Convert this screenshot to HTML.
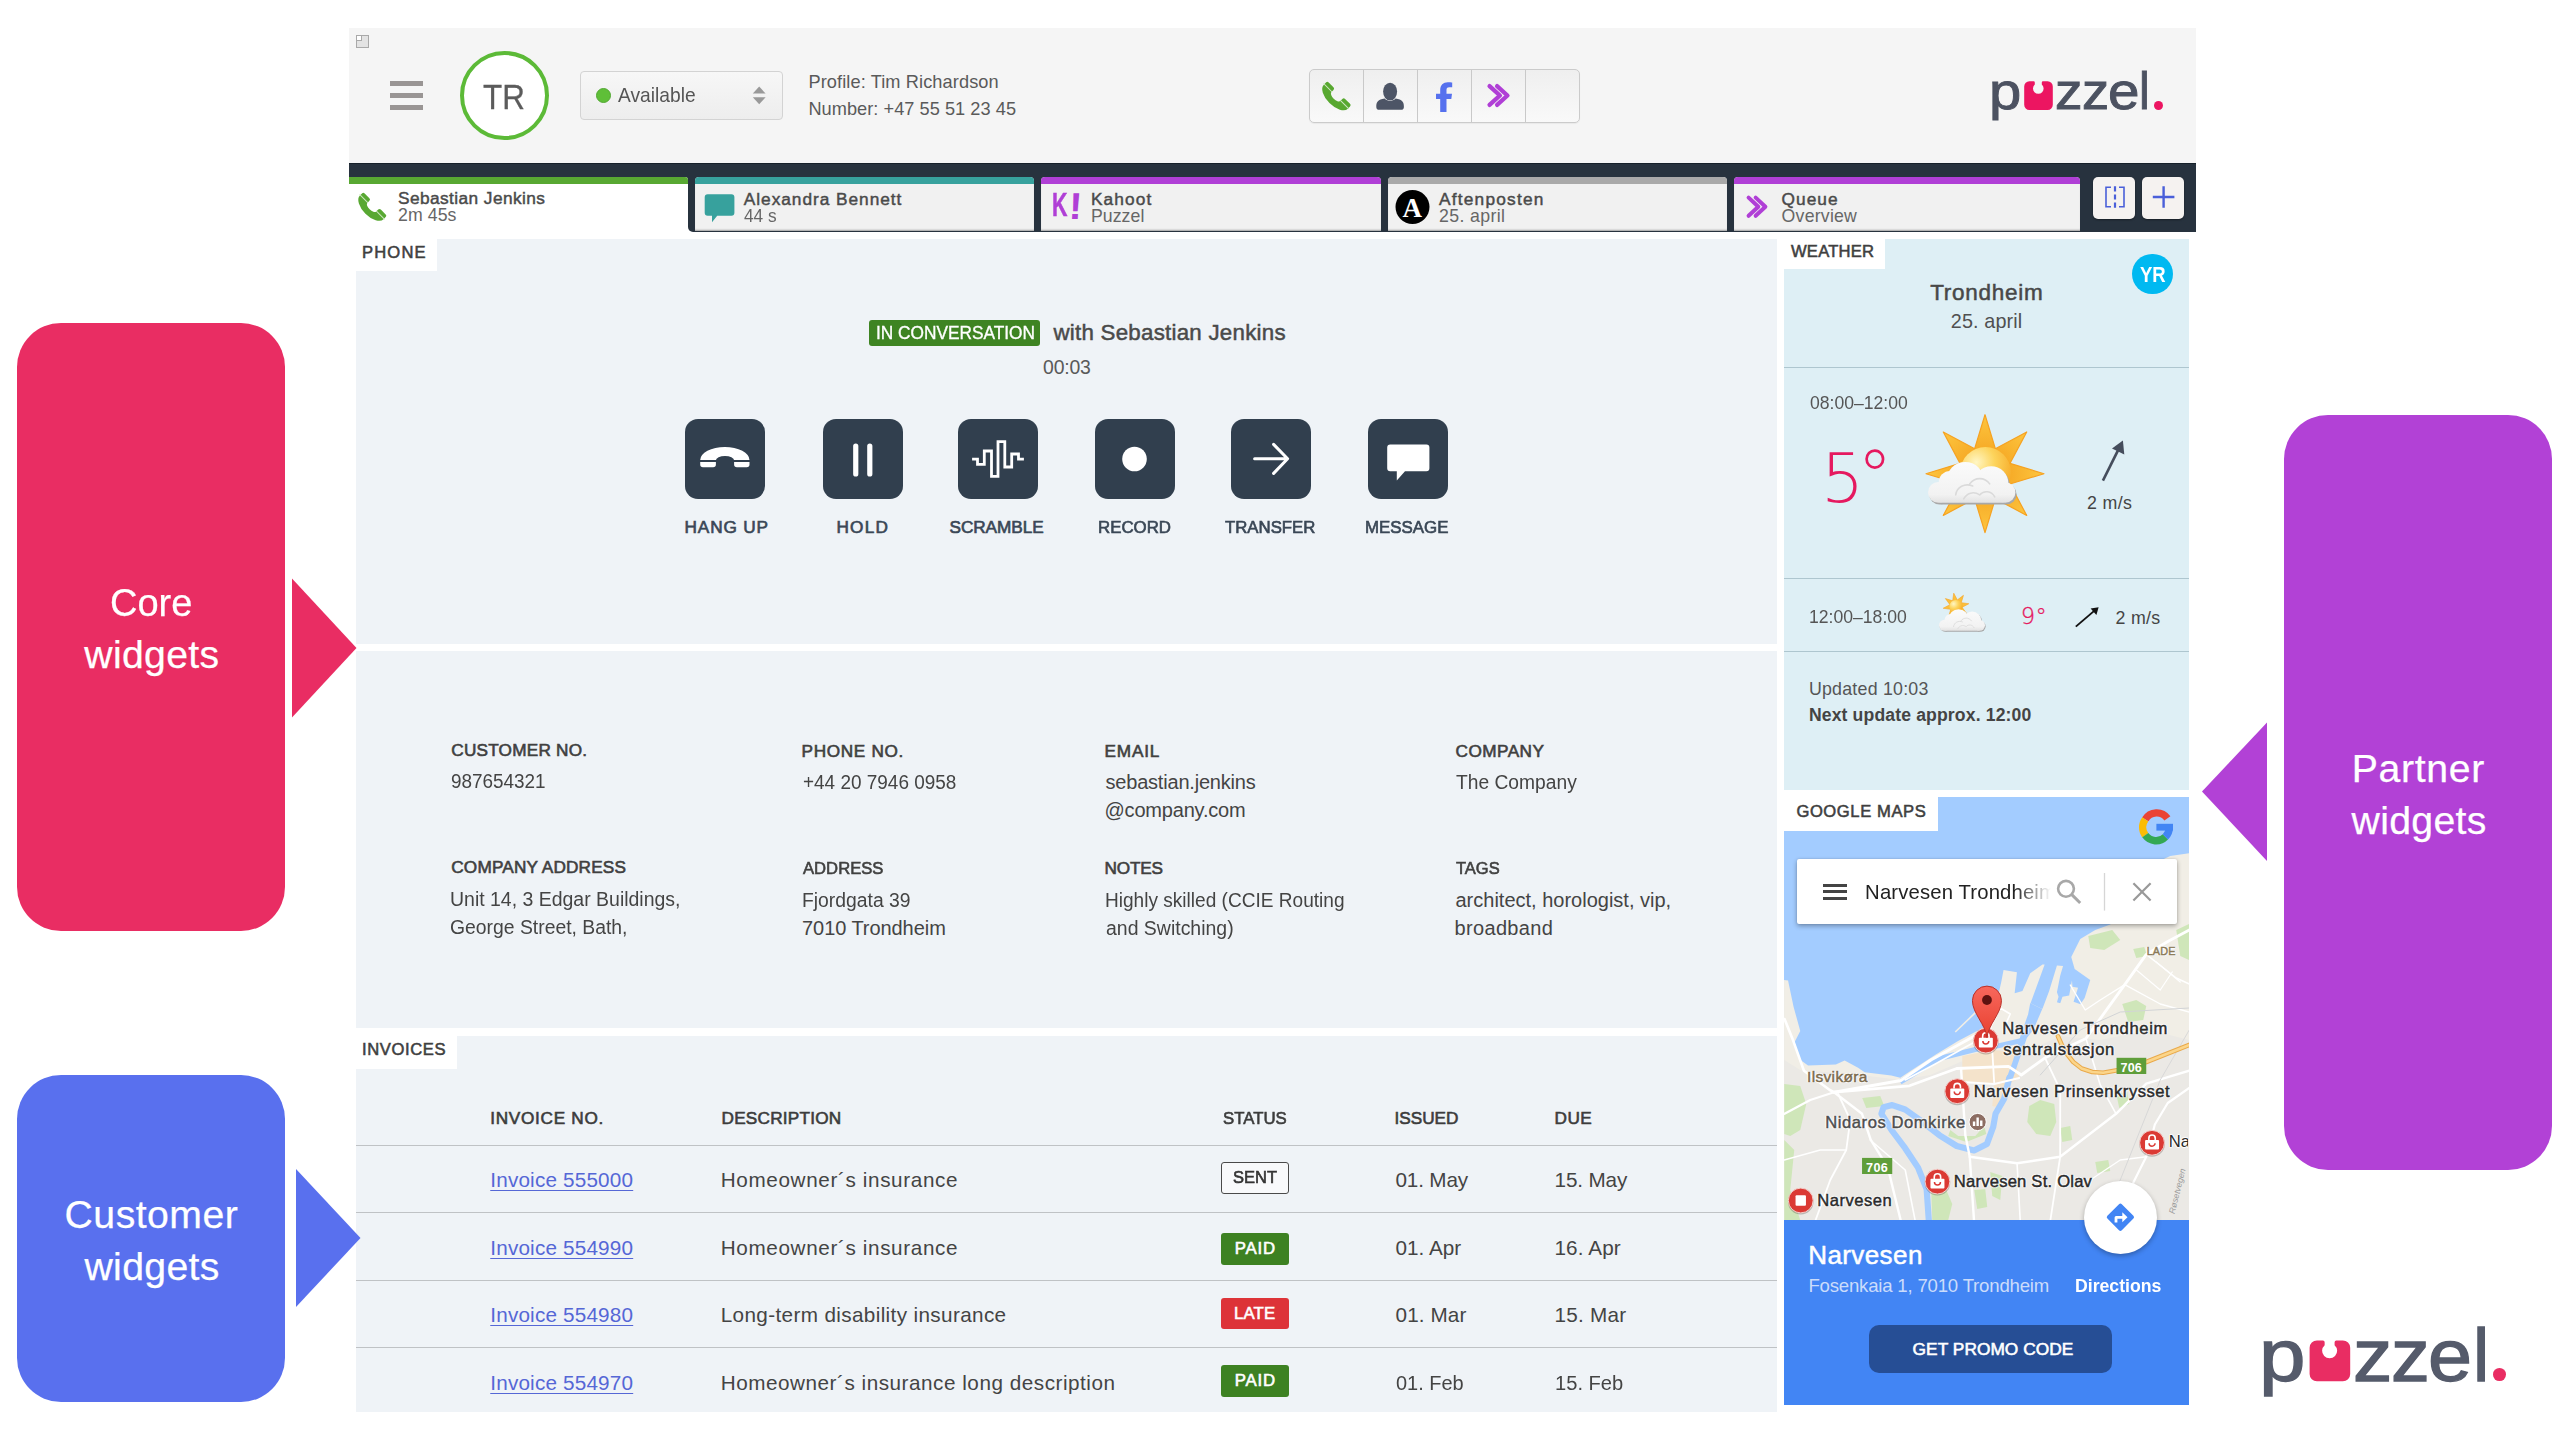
<!DOCTYPE html>
<html lang="en"><head><meta charset="utf-8"><title>Puzzel agent application widgets</title>
<style>
*{box-sizing:border-box;margin:0;padding:0}
html,body{width:2560px;height:1440px;overflow:hidden;background:#fff}
body{position:relative;font-family:"Liberation Sans",sans-serif}
.a{position:absolute}
.t{position:absolute;white-space:pre;display:block}
svg{position:absolute;overflow:visible}
</style></head>
<body>
<section id="header">
<div class="a" style="left:349px;top:28px;width:1847.00px;height:135.00px;background:#f5f5f5"></div>
<div class="a" style="left:356px;top:35px;width:13.00px;height:13.00px;background:#e3e3e3;border:1px solid #a9a9a9"><div class="a" style="left:0;top:0;width:5px;height:5px;background:#fff;border-right:1px solid #a9a9a9;border-bottom:1px solid #a9a9a9"></div></div>
<div class="a" style="left:389.7px;top:81px;width:33.70px;height:5.00px;background:#999594"></div>
<div class="a" style="left:389.7px;top:93px;width:33.70px;height:5.00px;background:#999594"></div>
<div class="a" style="left:389.7px;top:105.2px;width:33.70px;height:5.00px;background:#999594"></div>
<div class="a" style="left:460px;top:51px;width:89.00px;height:89.00px;border-radius:50%;background:#fff;border:4px solid #5cba37"></div>
<div class="a" style="left:580px;top:71px;width:203.00px;height:49.00px;border:1px solid #d3d3d3;border-radius:4px;background:linear-gradient(#f7f7f7,#ededed)"></div>
<div class="a" style="left:595.5px;top:88px;width:15.00px;height:15.00px;border-radius:50%;background:#5fbf38;border:1px solid #52a832"></div>
<svg style="left:752px;top:85px;" width="15" height="21" viewBox="752 85 15 21"><polygon points="752.8,93.6 765.6,93.6 759.2,86.6" fill="#999"/><polygon points="752.8,97.3 765.6,97.3 759.2,104.2" fill="#999"/></svg>
<div class="a" style="left:1309px;top:69px;width:270.50px;height:53.50px;border:1px solid #cbcbcb;border-radius:5px;background:linear-gradient(#efefef,#f9f9f9);box-shadow:0 1px 1px rgba(0,0,0,.05)"></div>
<div class="a" style="left:1363px;top:70px;width:1.00px;height:51.50px;background:#c9c9c9"></div>
<div class="a" style="left:1417px;top:70px;width:1.00px;height:51.50px;background:#c9c9c9"></div>
<div class="a" style="left:1471px;top:70px;width:1.00px;height:51.50px;background:#c9c9c9"></div>
<div class="a" style="left:1525px;top:70px;width:1.00px;height:51.50px;background:#c9c9c9"></div>
<svg style="left:1309px;top:69px;" width="271" height="54" viewBox="1309 69 271 54"><g transform="translate(1334.4,98.1) rotate(-135) scale(0.69) translate(-724.85,-457.15)"><path d="M700.2,460.1 A24.65,13.1 0 0 1 749.5,460.1 V464.5 a2.8,2.8 0 0 1 -2.8,2.8 H736.9 a2.8,2.8 0 0 1 -2.8,-2.8 V460.2 A9.1,4.3 0 0 0 715.9,460.2 V464.5 a2.8,2.8 0 0 1 -2.8,2.8 H703 a2.8,2.8 0 0 1 -2.8,-2.8 z" fill="#58a830"/><path d="M699,461 h17.5 M733.5,461 h17.5" stroke="#cfe6c2" stroke-width="1.5"/></g><ellipse cx="1390.1" cy="91.6" rx="7" ry="8.9" fill="#4d5566"/><path d="M1376.3,106.9 C1376.3,101.6 1378,99.7 1384.6,98.5 C1386.4,100.3 1388.2,100.9 1390.1,100.9 C1392,100.9 1393.8,100.3 1395.6,98.5 C1402.2,99.7 1403.9,101.6 1403.9,106.9 a2.8,2.8 0 0 1 -2.8,2.8 h-22 a2.8,2.8 0 0 1 -2.8,-2.8 z" fill="#4d5566"/><path d="M1440.2,111.9 v-13 h-4.2 v-5.1 h4.2 v-3.6 c0,-5 3,-7.95 7.6,-7.95 c1.8,0 3.6,0.15 4.4,0.3 v4.6 h-2.9 c-2.3,0 -2.8,1.1 -2.8,2.9 v3.75 h5.5 l-0.7,5.1 h-4.8 v13 z" fill="#5671ee"/><path d="M1489.55,86.15 L1499.93,95.50 L1489.55,104.85 M1497.07,86.15 L1507.45,95.50 L1497.07,104.85" fill="none" stroke="#b03fd6" stroke-width="4.3" stroke-linecap="round" stroke-linejoin="round"/></svg>
<svg style="left:2022px;top:79px;" width="33" height="34" viewBox="2022 79 33 34"><path d="M2029.40,81.20 H2033.60 Q2034.80,81.20 2034.80,82.40 V84.52 A5.30,5.30 0 1 0 2041.80,84.52 V82.40 Q2041.80,81.20 2043.00,81.20 H2047.60 a5.20,5.20 0 0 1 5.20,5.20 V104.80 a5.20,5.20 0 0 1 -5.20,5.20 H2029.40 a5.20,5.20 0 0 1 -5.20,-5.20 V86.40 a5.20,5.20 0 0 1 5.20,-5.20 z" fill="#ec1561"/></svg>
<div class="a" style="left:2153.55px;top:100.8px;width:9.00px;height:9.00px;background:#ec1561;border-radius:50%"></div>
<span class="t" style="left:482.80px;top:80.00px;font:400 34.2px/34.2px 'Liberation Sans', sans-serif;color:#5b5b5b;-webkit-text-stroke:0.3px #5b5b5b;transform-origin:0 50%;transform:scaleX(0.9179);">TR</span>
<span class="t" style="left:618.40px;top:86.00px;font:400 19.8px/19.8px 'Liberation Sans', sans-serif;color:#555;transform-origin:0 50%;transform:scaleX(0.9710);">Available</span>
<span class="t" style="left:808.40px;top:73.00px;font:400 18.2px/18.2px 'Liberation Sans', sans-serif;color:#5a5a5a;letter-spacing:0.104px;">Profile: Tim Richardson</span>
<span class="t" style="left:808.40px;top:100.00px;font:400 18.2px/18.2px 'Liberation Sans', sans-serif;color:#5a5a5a;letter-spacing:0.038px;">Number: +47 55 51 23 45</span>
<span class="t" style="left:1988.59px;top:65.00px;font:400 52.626204238921005px/52.626204238921005px 'Liberation Sans', sans-serif;color:#4c5261;-webkit-text-stroke:0.9px #4c5261;transform-origin:0 50%;transform:scaleX(1.1040);">p</span><span class="t" style="left:2032.00px;top:90.00px;font:400 18.945433526011563px/18.945433526011563px 'Liberation Sans', sans-serif;color:#ec1561;">u</span><span class="t" style="left:2054.91px;top:65.00px;font:400 52.626204238921005px/52.626204238921005px 'Liberation Sans', sans-serif;color:#4c5261;-webkit-text-stroke:0.9px #4c5261;transform-origin:0 50%;transform:scaleX(1.0455);">z</span><span class="t" style="left:2081.54px;top:65.00px;font:400 52.626204238921005px/52.626204238921005px 'Liberation Sans', sans-serif;color:#4c5261;-webkit-text-stroke:0.9px #4c5261;transform-origin:0 50%;transform:scaleX(1.0318);">z</span><span class="t" style="left:2107.65px;top:65.00px;font:400 52.626204238921005px/52.626204238921005px 'Liberation Sans', sans-serif;color:#4c5261;-webkit-text-stroke:0.9px #4c5261;transform-origin:0 50%;transform:scaleX(1.0760);">e</span><span class="t" style="left:2139.10px;top:66.00px;font:400 51.83681117533719px/51.83681117533719px 'Liberation Sans', sans-serif;color:#4c5261;-webkit-text-stroke:0.9px #4c5261;transform-origin:0 50%;transform:scaleX(0.9333);">l</span><span class="t" style="left:2151.50px;top:69.00px;font:400 47.3635838150289px/47.3635838150289px 'Liberation Sans', sans-serif;color:#ec1561;">.</span>
</section>
<section id="tabs">
<div class="a" style="left:349px;top:163px;width:1847.00px;height:69.00px;background:#27323e;border-top:1px solid #16202a"></div>
<div class="a" style="left:349px;top:177px;width:339.40px;height:63.00px;background:#fff;border-radius:0 3px 0 0"></div>
<div class="a" style="left:349px;top:177px;width:339.40px;height:6.50px;background:#58a832;border-radius:0 3px 0 0"></div>
<div class="a" style="left:695px;top:177px;width:339.40px;height:54.00px;background:#f1f1f1;border-radius:4px 4px 0 0;box-shadow:inset 0 -2px 2px -1px rgba(0,0,0,.35);overflow:hidden"><div class="a" style="left:0;top:0;width:100%;height:6.5px;background:#37a19d"></div></div>
<div class="a" style="left:1041.3px;top:177px;width:339.30px;height:54.00px;background:#f1f1f1;border-radius:4px 4px 0 0;box-shadow:inset 0 -2px 2px -1px rgba(0,0,0,.35);overflow:hidden"><div class="a" style="left:0;top:0;width:100%;height:6.5px;background:#b03fd6"></div></div>
<div class="a" style="left:1387.5px;top:177px;width:339.40px;height:54.00px;background:#f1f1f1;border-radius:4px 4px 0 0;box-shadow:inset 0 -2px 2px -1px rgba(0,0,0,.35);overflow:hidden"><div class="a" style="left:0;top:0;width:100%;height:6.5px;background:#a9a9a9"></div></div>
<div class="a" style="left:1733.8px;top:177px;width:345.90px;height:54.00px;background:#f1f1f1;border-radius:4px 4px 0 0;box-shadow:inset 0 -2px 2px -1px rgba(0,0,0,.35);overflow:hidden"><div class="a" style="left:0;top:0;width:100%;height:6.5px;background:#b03fd6"></div></div>
<div class="a" style="left:349px;top:232px;width:1847.00px;height:7.00px;background:#fff"></div>
<div class="a" style="left:688.4px;top:226px;width:6.60px;height:6.00px;background:#fff"></div>
<div class="a" style="left:688.4px;top:220px;width:7.10px;height:12.00px;background:#27323e;border-radius:0 0 0 5px"></div>
<div class="a" style="left:2093px;top:176.5px;width:42.00px;height:42.00px;background:#f5f2f0;border-radius:5px;box-shadow:0 1px 2px rgba(0,0,0,.4)"></div>
<div class="a" style="left:2142px;top:176.5px;width:42.00px;height:42.00px;background:#f5f2f0;border-radius:5px;box-shadow:0 1px 2px rgba(0,0,0,.4)"></div>
<svg style="left:2093px;top:176px;" width="92" height="44" viewBox="2093 176 92 44"><path d="M2111,187.2 h-5 v19.6 h5 M2119,187.2 h5 v19.6 h-5" fill="none" stroke="#4a5fd9" stroke-width="1.6"/><path d="M2115,186.2 v21.6" stroke="#4a5fd9" stroke-width="2.2" stroke-dasharray="5.2,3" fill="none"/><path d="M2152.8,197 h21.6 M2163.6,186.2 v21.6" stroke="#4a5fd9" stroke-width="2.4" fill="none"/></svg>
<svg style="left:349px;top:177px;" width="1731" height="55" viewBox="349 177 1731 55"><g transform="translate(370.3,208.8) rotate(-135) scale(0.68) translate(-724.85,-457.15)"><path d="M700.2,460.1 A24.65,13.1 0 0 1 749.5,460.1 V464.5 a2.8,2.8 0 0 1 -2.8,2.8 H736.9 a2.8,2.8 0 0 1 -2.8,-2.8 V460.2 A9.1,4.3 0 0 0 715.9,460.2 V464.5 a2.8,2.8 0 0 1 -2.8,2.8 H703 a2.8,2.8 0 0 1 -2.8,-2.8 z" fill="#58a832"/><path d="M699,461 h17.5 M733.5,461 h17.5" stroke="#cde5c0" stroke-width="1.5"/></g><path d="M707.7,194.3 h23.7 a3,3 0 0 1 3,3 v15.4 a3,3 0 0 1 -3,3 h-14.2 l-5.2,6.5 v-6.5 h-4.3 a3,3 0 0 1 -3,-3 v-15.4 a3,3 0 0 1 3,-3 z" fill="#37a19d"/><path d="M1748.60,197.60 L1758.34,206.70 L1748.60,215.80 M1755.66,197.60 L1765.40,206.70 L1755.66,215.80" fill="none" stroke="#b03fd6" stroke-width="4" stroke-linecap="round" stroke-linejoin="round"/><circle cx="1412.5" cy="207" r="17" fill="#000"/></svg>
<span class="t" style="left:398.00px;top:190.00px;font:400 17.3px/17.3px 'Liberation Sans', sans-serif;color:#4a4a4a;letter-spacing:0.418px;-webkit-text-stroke:0.45px #4a4a4a;">Sebastian Jenkins</span>
<span class="t" style="left:398.00px;top:207.00px;font:400 17.7px/17.7px 'Liberation Sans', sans-serif;color:#666;letter-spacing:0.088px;">2m 45s</span>
<span class="t" style="left:743.80px;top:191.00px;font:400 17.3px/17.3px 'Liberation Sans', sans-serif;color:#4a4a4a;letter-spacing:0.963px;-webkit-text-stroke:0.45px #4a4a4a;">Alexandra Bennett</span>
<span class="t" style="left:743.80px;top:208.00px;font:400 17.7px/17.7px 'Liberation Sans', sans-serif;color:#666;transform-origin:0 50%;transform:scaleX(0.9765);">44 s</span>
<span class="t" style="left:1090.90px;top:191.00px;font:400 17.3px/17.3px 'Liberation Sans', sans-serif;color:#4a4a4a;letter-spacing:1.126px;-webkit-text-stroke:0.45px #4a4a4a;">Kahoot</span>
<span class="t" style="left:1090.90px;top:208.00px;font:400 17.7px/17.7px 'Liberation Sans', sans-serif;color:#666;letter-spacing:0.068px;">Puzzel</span>
<span class="t" style="left:1439.00px;top:191.00px;font:400 17.3px/17.3px 'Liberation Sans', sans-serif;color:#4a4a4a;letter-spacing:1.217px;-webkit-text-stroke:0.45px #4a4a4a;">Aftenposten</span>
<span class="t" style="left:1439.00px;top:208.00px;font:400 17.7px/17.7px 'Liberation Sans', sans-serif;color:#666;letter-spacing:0.376px;">25. april</span>
<span class="t" style="left:1781.60px;top:191.00px;font:400 17.3px/17.3px 'Liberation Sans', sans-serif;color:#4a4a4a;letter-spacing:1.006px;-webkit-text-stroke:0.45px #4a4a4a;">Queue</span>
<span class="t" style="left:1781.60px;top:208.00px;font:400 17.7px/17.7px 'Liberation Sans', sans-serif;color:#666;letter-spacing:0.223px;">Overview</span>
<span class="t" style="left:1051.98px;top:189.00px;font:700 32.6px/32.6px 'Liberation Sans', sans-serif;color:#b03fd6;-webkit-text-stroke:0.5px #b03fd6;transform-origin:0 50%;transform:scaleX(0.6591);">K</span><span class="t" style="left:1068.80px;top:188.00px;font:700 37.5px/37.5px 'Liberation Sans', sans-serif;color:#b03fd6;transform-origin:0 50%;transform:scaleX(1.0667);transform:scaleX(1.0667) skewX(-3deg);">!</span>
<span class="t" style="left:1402.50px;top:195.00px;font:700 27px/27px 'Liberation Serif', serif;color:#fff;">A</span>
</section>
<section id="phone">
<div class="a" style="left:356px;top:239px;width:1421.00px;height:405.00px;background:#eff3f7"></div>
<div class="a" style="left:349px;top:239px;width:88.00px;height:32.00px;background:#fff"></div>
<div class="a" style="left:869.3px;top:319.7px;width:170.70px;height:25.90px;background:#3e8422;border-radius:3px"></div>
<div class="a" style="left:685px;top:419px;width:80.00px;height:80.00px;background:#313f4e;border-radius:13px"></div>
<div class="a" style="left:822.8px;top:419px;width:80.00px;height:80.00px;background:#313f4e;border-radius:13px"></div>
<div class="a" style="left:958px;top:419px;width:80.00px;height:80.00px;background:#313f4e;border-radius:13px"></div>
<div class="a" style="left:1094.5px;top:419px;width:80.00px;height:80.00px;background:#313f4e;border-radius:13px"></div>
<div class="a" style="left:1231.1px;top:419px;width:80.00px;height:80.00px;background:#313f4e;border-radius:13px"></div>
<div class="a" style="left:1367.6px;top:419px;width:80.00px;height:80.00px;background:#313f4e;border-radius:13px"></div>
<svg style="left:680px;top:415px;" width="772" height="87" viewBox="680 415 772 87"><g transform="translate(724.85,457.15) rotate(0) scale(1) translate(-724.85,-457.15)"><path d="M700.2,460.1 A24.65,13.1 0 0 1 749.5,460.1 V464.5 a2.8,2.8 0 0 1 -2.8,2.8 H736.9 a2.8,2.8 0 0 1 -2.8,-2.8 V460.2 A9.1,4.3 0 0 0 715.9,460.2 V464.5 a2.8,2.8 0 0 1 -2.8,2.8 H703 a2.8,2.8 0 0 1 -2.8,-2.8 z" fill="#fff"/><path d="M699,461 h17.5 M733.5,461 h17.5" stroke="#313f4e" stroke-width="1.8"/></g><path d="M855.75,446.1 v27.8 M869.8,446.1 v27.8" stroke="#fff" stroke-width="5.2" stroke-linecap="round"/><path d="M972.1,459.1 H977.5 V464.4 H984.3 V451 H991.5 V476.4 H998 V441.6 H1004.8 V467 H1011.7 V454 H1018.5 V459.1 H1023.9" fill="none" stroke="#fff" stroke-width="2.8" stroke-linejoin="miter" stroke-linecap="butt"/><circle cx="1134.5" cy="459" r="12.3" fill="#fff"/><path d="M1254.6,458.8 H1287 M1273.6,444.4 L1287.6,458.8 L1273.6,473.4" fill="none" stroke="#fff" stroke-width="3" stroke-linecap="round" stroke-linejoin="round"/><path d="M1390.2,444.4 h36.2 a3,3 0 0 1 3,3 v20.8 a3,3 0 0 1 -3,3 h-21.4 l-8.2,9.4 v-9.4 h-6.6 a3,3 0 0 1 -3,-3 v-20.8 a3,3 0 0 1 3,-3 z" fill="#fff"/></svg>
<span class="t" style="left:362.00px;top:245.00px;font:400 16.6px/16.6px 'Liberation Sans', sans-serif;color:#3f3f3f;letter-spacing:1.139px;-webkit-text-stroke:0.55px #3f3f3f;">PHONE</span>
<span class="t" style="left:875.85px;top:324.00px;font:400 18.3px/18.3px 'Liberation Sans', sans-serif;color:#fff;-webkit-text-stroke:0.35px #fff;transform-origin:0 50%;transform:scaleX(0.9451);">IN CONVERSATION</span>
<span class="t" style="left:1053.50px;top:322.00px;font:400 22.3px/22.3px 'Liberation Sans', sans-serif;color:#4a4a4a;letter-spacing:0.249px;-webkit-text-stroke:0.5px #4a4a4a;">with Sebastian Jenkins</span>
<span class="t" style="left:1043.10px;top:358.00px;font:400 19.4px/19.4px 'Liberation Sans', sans-serif;color:#5a5a5a;letter-spacing:-0.210px;">00:03</span>
<span class="t" style="left:684.50px;top:519.00px;font:400 17.2px/17.2px 'Liberation Sans', sans-serif;color:#3a4756;letter-spacing:0.876px;-webkit-text-stroke:0.65px #3a4756;">HANG UP</span>
<span class="t" style="left:836.40px;top:519.00px;font:400 17.2px/17.2px 'Liberation Sans', sans-serif;color:#3a4756;letter-spacing:1.287px;-webkit-text-stroke:0.65px #3a4756;">HOLD</span>
<span class="t" style="left:949.50px;top:519.00px;font:400 17.2px/17.2px 'Liberation Sans', sans-serif;color:#3a4756;letter-spacing:-0.056px;-webkit-text-stroke:0.65px #3a4756;">SCRAMBLE</span>
<span class="t" style="left:1097.72px;top:519.00px;font:400 17.2px/17.2px 'Liberation Sans', sans-serif;color:#3a4756;-webkit-text-stroke:0.65px #3a4756;transform-origin:0 50%;transform:scaleX(0.9799);">RECORD</span>
<span class="t" style="left:1225.00px;top:519.00px;font:400 17.2px/17.2px 'Liberation Sans', sans-serif;color:#3a4756;-webkit-text-stroke:0.65px #3a4756;transform-origin:0 50%;transform:scaleX(0.9760);">TRANSFER</span>
<span class="t" style="left:1365.02px;top:519.00px;font:400 17.2px/17.2px 'Liberation Sans', sans-serif;color:#3a4756;-webkit-text-stroke:0.65px #3a4756;transform-origin:0 50%;transform:scaleX(0.9815);">MESSAGE</span>
</section>
<section id="customer">
<div class="a" style="left:356px;top:651px;width:1421.00px;height:377.00px;background:#eff3f7"></div>
<span class="t" style="left:451.25px;top:742.00px;font:400 17.2px/17.2px 'Liberation Sans', sans-serif;color:#404040;letter-spacing:0.219px;-webkit-text-stroke:0.6px #404040;">CUSTOMER NO.</span>
<span class="t" style="left:451.25px;top:771.00px;font:400 20px/20px 'Liberation Sans', sans-serif;color:#444;transform-origin:0 50%;transform:scaleX(0.9451);">987654321</span>
<span class="t" style="left:801.50px;top:743.00px;font:400 17.2px/17.2px 'Liberation Sans', sans-serif;color:#404040;letter-spacing:0.665px;-webkit-text-stroke:0.6px #404040;">PHONE NO.</span>
<span class="t" style="left:803.00px;top:772.00px;font:400 20px/20px 'Liberation Sans', sans-serif;color:#444;transform-origin:0 50%;transform:scaleX(0.9477);">+44 20 7946 0958</span>
<span class="t" style="left:1104.50px;top:743.00px;font:400 17.2px/17.2px 'Liberation Sans', sans-serif;color:#404040;letter-spacing:0.807px;-webkit-text-stroke:0.6px #404040;">EMAIL</span>
<span class="t" style="left:1105.50px;top:772.00px;font:400 20px/20px 'Liberation Sans', sans-serif;color:#444;letter-spacing:-0.199px;">sebastian.jenkins</span>
<span class="t" style="left:1104.50px;top:800.00px;font:400 20px/20px 'Liberation Sans', sans-serif;color:#444;letter-spacing:-0.195px;">@company.com</span>
<span class="t" style="left:1455.50px;top:743.00px;font:400 17.2px/17.2px 'Liberation Sans', sans-serif;color:#404040;letter-spacing:0.473px;-webkit-text-stroke:0.6px #404040;">COMPANY</span>
<span class="t" style="left:1455.50px;top:772.00px;font:400 20px/20px 'Liberation Sans', sans-serif;color:#444;transform-origin:0 50%;transform:scaleX(0.9613);">The Company</span>
<span class="t" style="left:451.25px;top:859.00px;font:400 17.2px/17.2px 'Liberation Sans', sans-serif;color:#404040;letter-spacing:0.176px;-webkit-text-stroke:0.6px #404040;">COMPANY ADDRESS</span>
<span class="t" style="left:450.28px;top:889.00px;font:400 20px/20px 'Liberation Sans', sans-serif;color:#444;transform-origin:0 50%;transform:scaleX(0.9733);">Unit 14, 3 Edgar Buildings,</span>
<span class="t" style="left:450.28px;top:917.00px;font:400 20px/20px 'Liberation Sans', sans-serif;color:#444;transform-origin:0 50%;transform:scaleX(0.9675);">George Street, Bath,</span>
<span class="t" style="left:802.50px;top:860.00px;font:400 17.2px/17.2px 'Liberation Sans', sans-serif;color:#404040;-webkit-text-stroke:0.6px #404040;transform-origin:0 50%;transform:scaleX(0.9682);">ADDRESS</span>
<span class="t" style="left:802.03px;top:890.00px;font:400 20px/20px 'Liberation Sans', sans-serif;color:#444;transform-origin:0 50%;transform:scaleX(0.9670);">Fjordgata 39</span>
<span class="t" style="left:802.00px;top:918.00px;font:400 20px/20px 'Liberation Sans', sans-serif;color:#444;letter-spacing:-0.057px;">7010 Trondheim</span>
<span class="t" style="left:1104.50px;top:860.00px;font:400 17.2px/17.2px 'Liberation Sans', sans-serif;color:#404040;letter-spacing:-0.186px;-webkit-text-stroke:0.6px #404040;">NOTES</span>
<span class="t" style="left:1104.55px;top:890.00px;font:400 20px/20px 'Liberation Sans', sans-serif;color:#444;transform-origin:0 50%;transform:scaleX(0.9535);">Highly skilled (CCIE Routing</span>
<span class="t" style="left:1105.50px;top:918.00px;font:400 20px/20px 'Liberation Sans', sans-serif;color:#444;transform-origin:0 50%;transform:scaleX(0.9730);">and Switching)</span>
<span class="t" style="left:1455.50px;top:860.00px;font:400 17.2px/17.2px 'Liberation Sans', sans-serif;color:#404040;-webkit-text-stroke:0.6px #404040;transform-origin:0 50%;transform:scaleX(0.9599);">TAGS</span>
<span class="t" style="left:1455.50px;top:890.00px;font:400 20px/20px 'Liberation Sans', sans-serif;color:#444;">architect, horologist, vip,</span>
<span class="t" style="left:1454.50px;top:918.00px;font:400 20px/20px 'Liberation Sans', sans-serif;color:#444;letter-spacing:0.341px;">broadband</span>
</section>
<section id="invoices">
<div class="a" style="left:356px;top:1036.25px;width:1421.00px;height:375.75px;background:#eff3f7"></div>
<div class="a" style="left:349px;top:1036px;width:108.00px;height:32.75px;background:#fff"></div>
<div class="a" style="left:356px;top:1144.6px;width:1421.00px;height:1.10px;background:#bfc2c5"></div>
<div class="a" style="left:356px;top:1212.3px;width:1421.00px;height:1.10px;background:#bfc2c5"></div>
<div class="a" style="left:356px;top:1279.8px;width:1421.00px;height:1.10px;background:#bfc2c5"></div>
<div class="a" style="left:356px;top:1347.3px;width:1421.00px;height:1.10px;background:#bfc2c5"></div>
<div class="a" style="left:1221.25px;top:1162px;width:67.50px;height:32.25px;background:#f8f9fb;border:1.2px solid #4a4a4a;border-radius:3px"></div>
<div class="a" style="left:1221.25px;top:1232.5px;width:67.50px;height:32.00px;background:#3d8122;border-radius:3px"></div>
<div class="a" style="left:1221.25px;top:1297.5px;width:67.50px;height:31.75px;background:#dd3338;border-radius:3px"></div>
<div class="a" style="left:1221.25px;top:1365px;width:67.50px;height:32.00px;background:#3d8122;border-radius:3px"></div>
<span class="t" style="left:362.00px;top:1042.00px;font:400 16.6px/16.6px 'Liberation Sans', sans-serif;color:#3f3f3f;letter-spacing:0.610px;-webkit-text-stroke:0.55px #3f3f3f;">INVOICES</span>
<span class="t" style="left:490.25px;top:1110.00px;font:400 17.2px/17.2px 'Liberation Sans', sans-serif;color:#3c3c3c;letter-spacing:0.702px;-webkit-text-stroke:0.6px #3c3c3c;">INVOICE NO.</span>
<span class="t" style="left:721.50px;top:1110.00px;font:400 17.2px/17.2px 'Liberation Sans', sans-serif;color:#3c3c3c;letter-spacing:0.220px;-webkit-text-stroke:0.6px #3c3c3c;">DESCRIPTION</span>
<span class="t" style="left:1222.50px;top:1110.00px;font:400 17.2px/17.2px 'Liberation Sans', sans-serif;color:#3c3c3c;-webkit-text-stroke:0.6px #3c3c3c;transform-origin:0 50%;transform:scaleX(0.9763);">STATUS</span>
<span class="t" style="left:1394.50px;top:1110.00px;font:400 17.2px/17.2px 'Liberation Sans', sans-serif;color:#3c3c3c;letter-spacing:-0.016px;-webkit-text-stroke:0.6px #3c3c3c;">ISSUED</span>
<span class="t" style="left:1554.50px;top:1110.00px;font:400 17.2px/17.2px 'Liberation Sans', sans-serif;color:#3c3c3c;letter-spacing:0.463px;-webkit-text-stroke:0.6px #3c3c3c;">DUE</span>
<span class="t" style="left:490.25px;top:1170.00px;font:400 20.7px/20.7px 'Liberation Sans', sans-serif;color:#5567d6;letter-spacing:0.187px;text-decoration:underline;text-decoration-thickness:1.2px;text-underline-offset:3.4px;">Invoice 555000</span>
<span class="t" style="left:720.75px;top:1170.00px;font:400 20.7px/20.7px 'Liberation Sans', sans-serif;color:#444;letter-spacing:0.627px;">Homeowner´s insurance</span>
<span class="t" style="left:1395.50px;top:1170.00px;font:400 20.7px/20.7px 'Liberation Sans', sans-serif;color:#444;letter-spacing:-0.166px;">01. May</span>
<span class="t" style="left:1554.50px;top:1170.00px;font:400 20.7px/20.7px 'Liberation Sans', sans-serif;color:#444;letter-spacing:-0.124px;">15. May</span>
<span class="t" style="left:1233.25px;top:1170.00px;font:400 16.8px/16.8px 'Liberation Sans', sans-serif;color:#333;-webkit-text-stroke:0.6px #333;transform-origin:0 50%;transform:scaleX(0.9830);">SENT</span>
<span class="t" style="left:490.25px;top:1238.00px;font:400 20.7px/20.7px 'Liberation Sans', sans-serif;color:#5567d6;letter-spacing:0.187px;text-decoration:underline;text-decoration-thickness:1.2px;text-underline-offset:3.4px;">Invoice 554990</span>
<span class="t" style="left:720.75px;top:1238.00px;font:400 20.7px/20.7px 'Liberation Sans', sans-serif;color:#444;letter-spacing:0.627px;">Homeowner´s insurance</span>
<span class="t" style="left:1395.50px;top:1238.00px;font:400 20.7px/20.7px 'Liberation Sans', sans-serif;color:#444;letter-spacing:0.032px;">01. Apr</span>
<span class="t" style="left:1554.50px;top:1238.00px;font:400 20.7px/20.7px 'Liberation Sans', sans-serif;color:#444;letter-spacing:0.115px;">16. Apr</span>
<span class="t" style="left:1234.75px;top:1241.00px;font:400 16.8px/16.8px 'Liberation Sans', sans-serif;color:#fff;letter-spacing:0.816px;-webkit-text-stroke:0.6px #fff;">PAID</span>
<span class="t" style="left:490.25px;top:1305.00px;font:400 20.7px/20.7px 'Liberation Sans', sans-serif;color:#5567d6;letter-spacing:0.187px;text-decoration:underline;text-decoration-thickness:1.2px;text-underline-offset:3.4px;">Invoice 554980</span>
<span class="t" style="left:720.75px;top:1305.00px;font:400 20.7px/20.7px 'Liberation Sans', sans-serif;color:#444;letter-spacing:0.363px;">Long-term disability insurance</span>
<span class="t" style="left:1395.50px;top:1305.00px;font:400 20.7px/20.7px 'Liberation Sans', sans-serif;color:#444;letter-spacing:0.126px;">01. Mar</span>
<span class="t" style="left:1554.50px;top:1305.00px;font:400 20.7px/20.7px 'Liberation Sans', sans-serif;color:#444;letter-spacing:0.243px;">15. Mar</span>
<span class="t" style="left:1234.00px;top:1306.00px;font:400 16.8px/16.8px 'Liberation Sans', sans-serif;color:#fff;letter-spacing:0.157px;-webkit-text-stroke:0.6px #fff;">LATE</span>
<span class="t" style="left:490.25px;top:1373.00px;font:400 20.7px/20.7px 'Liberation Sans', sans-serif;color:#5567d6;letter-spacing:0.187px;text-decoration:underline;text-decoration-thickness:1.2px;text-underline-offset:3.4px;">Invoice 554970</span>
<span class="t" style="left:720.75px;top:1373.00px;font:400 20.7px/20.7px 'Liberation Sans', sans-serif;color:#444;letter-spacing:0.524px;">Homeowner´s insurance long description</span>
<span class="t" style="left:1395.50px;top:1373.00px;font:400 20.7px/20.7px 'Liberation Sans', sans-serif;color:#444;transform-origin:0 50%;transform:scaleX(0.9648);">01. Feb</span>
<span class="t" style="left:1554.53px;top:1373.00px;font:400 20.7px/20.7px 'Liberation Sans', sans-serif;color:#444;transform-origin:0 50%;transform:scaleX(0.9731);">15. Feb</span>
<span class="t" style="left:1234.75px;top:1373.00px;font:400 16.8px/16.8px 'Liberation Sans', sans-serif;color:#fff;letter-spacing:0.816px;-webkit-text-stroke:0.6px #fff;">PAID</span>
</section>
<section id="weather">
<div class="a" style="left:1783.75px;top:239px;width:405.25px;height:551.00px;background:#deeff5"></div>
<div class="a" style="left:1777px;top:239px;width:107.80px;height:29.70px;background:#fff"></div>
<div class="a" style="left:2132.4px;top:253.6px;width:40.60px;height:40.60px;background:#00b9f1;border-radius:50%"></div>
<div class="a" style="left:1783.75px;top:367px;width:405.25px;height:1.00px;background:#aec6cf"></div>
<div class="a" style="left:1783.75px;top:578px;width:405.25px;height:1.00px;background:#aec6cf"></div>
<div class="a" style="left:1783.75px;top:651px;width:405.25px;height:1.00px;background:#aec6cf"></div>
<svg style="left:1784px;top:380px;" width="405" height="260" viewBox="1784 380 405 260"><defs><radialGradient id="sd" cx="0.32" cy="0.3" r="0.8"><stop offset="0" stop-color="#fff6c4"/><stop offset="0.45" stop-color="#fdd45c"/><stop offset="1" stop-color="#f5a623"/></radialGradient><radialGradient id="sr" cx="0.5" cy="0.5" r="0.5"><stop offset="0.3" stop-color="#f5a623"/><stop offset="1" stop-color="#fdc63f"/></radialGradient><linearGradient id="cga" gradientUnits="userSpaceOnUse" x1="0" y1="0" x2="0" y2="41"><stop offset="0" stop-color="#fbfbfb"/><stop offset="0.8" stop-color="#f2f2f2"/><stop offset="1" stop-color="#e2e2e2"/></linearGradient><linearGradient id="cgb" gradientUnits="userSpaceOnUse" x1="0" y1="0" x2="0" y2="41"><stop offset="0" stop-color="#fbfbfb"/><stop offset="0.8" stop-color="#f2f2f2"/><stop offset="1" stop-color="#e2e2e2"/></linearGradient></defs><polygon points="1985.00,414.70 1995.33,448.76 2026.72,431.98 2009.94,463.37 2044.00,473.70 2009.94,484.03 2026.72,515.42 1995.33,498.64 1985.00,532.70 1974.67,498.64 1943.28,515.42 1960.06,484.03 1926.00,473.70 1960.06,463.37 1943.28,431.98 1974.67,448.76" fill="url(#sr)" stroke="#f6a221" stroke-width="1.2" stroke-linejoin="round"/><circle cx="1985.5" cy="472.5" r="25.5" fill="url(#sd)"/><g transform="translate(1928.90,463.70) scale(1.0000,1.0000)" fill="#a8a8a8" ><circle cx="10.6" cy="30.5" r="10.3"/><circle cx="22.5" cy="20.5" r="11.5"/><circle cx="37.5" cy="18.8" r="18.8"/><circle cx="63.5" cy="21.5" r="17.2"/><circle cx="77.5" cy="30.6" r="10.2"/><rect x="10" y="20" width="68" height="20.8" rx="3"/></g><g transform="translate(1927.70,461.90) scale(1.0000,1.0000)" fill="url(#cga)" ><circle cx="10.6" cy="30.5" r="10.3"/><circle cx="22.5" cy="20.5" r="11.5"/><circle cx="37.5" cy="18.8" r="18.8"/><circle cx="63.5" cy="21.5" r="17.2"/><circle cx="77.5" cy="30.6" r="10.2"/><rect x="10" y="20" width="68" height="20.8" rx="3"/></g><g transform="translate(1927.70,461.90) scale(1.0000,1.0000)" fill="none" stroke="#dadada" stroke-width="1.6" stroke-linecap="round"><path d="M28,33 c1,-8 9,-12 17,-9 M42,22 c5,-7 15,-7 20,0 M36,37 c3,-6 10,-8 16,-4 c4,-5 12,-4 15,2"/></g><polygon points="1953.74,593.20 1957.34,599.95 1963.46,595.35 1961.23,602.67 1968.80,603.74 1962.05,607.34 1966.65,613.46 1959.33,611.23 1958.26,618.80 1954.66,612.05 1948.54,616.65 1950.77,609.33 1943.20,608.26 1949.95,604.66 1945.35,598.54 1952.67,600.77" fill="#fbbf3a" stroke="#f6a221" stroke-width="0.6" stroke-linejoin="round"/><circle cx="1956" cy="606.5" r="6.6" fill="url(#sd)"/><g transform="translate(1939.43,610.15) scale(0.5268,0.5283)" fill="#a8a8a8" ><circle cx="10.6" cy="30.5" r="10.3"/><circle cx="22.5" cy="20.5" r="11.5"/><circle cx="37.5" cy="18.8" r="18.8"/><circle cx="63.5" cy="21.5" r="17.2"/><circle cx="77.5" cy="30.6" r="10.2"/><rect x="10" y="20" width="68" height="20.8" rx="3"/></g><g transform="translate(1938.80,609.20) scale(0.5268,0.5283)" fill="url(#cgb)" ><circle cx="10.6" cy="30.5" r="10.3"/><circle cx="22.5" cy="20.5" r="11.5"/><circle cx="37.5" cy="18.8" r="18.8"/><circle cx="63.5" cy="21.5" r="17.2"/><circle cx="77.5" cy="30.6" r="10.2"/><rect x="10" y="20" width="68" height="20.8" rx="3"/></g><g transform="translate(1938.80,609.20) scale(0.5268,0.5283)" fill="none" stroke="#dadada" stroke-width="1.6" stroke-linecap="round"><path d="M28,33 c1,-8 9,-12 17,-9 M42,22 c5,-7 15,-7 20,0 M36,37 c3,-6 10,-8 16,-4 c4,-5 12,-4 15,2"/></g><path d="M2102.9,480.7 L2118.5,449.4" stroke="#454d5c" stroke-width="2.6" fill="none"/><polygon points="2122.9,440.5 2124.3,454.6 2112,448.4" fill="#454d5c"/><path d="M2075.8,626.6 L2094.5,610.6" stroke="#111" stroke-width="1.9" fill="none"/><polygon points="2098.6,607.2 2096.4,615 2090.6,608.4" fill="#111"/></svg>
<span class="t" style="left:1791.00px;top:244.00px;font:400 16.6px/16.6px 'Liberation Sans', sans-serif;color:#3f3f3f;letter-spacing:0.208px;-webkit-text-stroke:0.55px #3f3f3f;">WEATHER</span>
<span class="t" style="left:2139.80px;top:264.00px;font:700 22px/22px 'Liberation Sans', sans-serif;color:#fff;transform-origin:0 50%;transform:scaleX(0.8411);">YR</span>
<span class="t" style="left:1930.20px;top:282.00px;font:400 22.5px/22.5px 'Liberation Sans', sans-serif;color:#484848;letter-spacing:0.729px;-webkit-text-stroke:0.5px #484848;">Trondheim</span>
<span class="t" style="left:1950.80px;top:312.00px;font:400 19.8px/19.8px 'Liberation Sans', sans-serif;color:#505050;letter-spacing:0.128px;">25. april</span>
<span class="t" style="left:1809.50px;top:394.00px;font:400 18.2px/18.2px 'Liberation Sans', sans-serif;color:#555;transform-origin:0 50%;transform:scaleX(0.9671);">08:00–12:00</span>
<span class="t" style="left:1820.72px;top:446.00px;font:200 66.8px/66.8px 'DejaVu Sans', sans-serif;color:#e5195f;transform-origin:0 50%;transform:scaleX(1.0133);">5</span><span class="t" style="left:1857.49px;top:440.00px;font:200 73px/73px 'DejaVu Sans', sans-serif;color:#e5195f;transform-origin:0 50%;transform:scaleX(0.9762);">°</span>
<span class="t" style="left:2087.00px;top:495.00px;font:400 17.8px/17.8px 'Liberation Sans', sans-serif;color:#444;letter-spacing:0.355px;">2 m/s</span>
<span class="t" style="left:1809.43px;top:608.00px;font:400 18.2px/18.2px 'Liberation Sans', sans-serif;color:#555;transform-origin:0 50%;transform:scaleX(0.9677);">12:00–18:00</span>
<span class="t" style="left:2020.80px;top:605.00px;font:200 22.6px/22.6px 'DejaVu Sans', sans-serif;color:#e5195f;letter-spacing:0.325px;-webkit-text-stroke:0.3px #e5195f;">9°</span>
<span class="t" style="left:2115.50px;top:610.00px;font:400 17.8px/17.8px 'Liberation Sans', sans-serif;color:#444;letter-spacing:0.305px;">2 m/s</span>
<span class="t" style="left:1808.90px;top:681.00px;font:400 17.8px/17.8px 'Liberation Sans', sans-serif;color:#555;letter-spacing:0.235px;">Updated 10:03</span>
<span class="t" style="left:1808.90px;top:707.00px;font:700 17.6px/17.6px 'Liberation Sans', sans-serif;color:#444;letter-spacing:0.141px;">Next update approx. 12:00</span>
</section>
<section id="maps">
<div class="a" style="left:1783.75px;top:797px;width:405.25px;height:423px;overflow:hidden"><svg style="left:0;top:0" width="405.25" height="423" viewBox="1783.75 797 405.25 423"><rect x="1783.75" y="797" width="405.25" height="423" fill="#ebe9e5"/><polygon points="2189.0,840.0 2189.0,1040.0 2150.0,1030.0 2100.0,1040.0 2060.0,1036.0 2030.0,1050.0 1995.0,1050.0 1960.0,1062.0 1930.0,1075.0 1900.0,1080.0 1860.0,1075.0 1800.0,1070.0 1784.0,1060.0 1784.0,970.0 2000.0,960.0 2110.0,900.0" fill="#f1eee6"/><polygon points="1962.0,1056.0 1992.0,1050.0 2014.0,1052.0 2019.0,1078.0 2005.0,1086.0 2001.0,1108.0 1992.0,1106.0 1994.0,1084.0 1962.0,1082.0" fill="#f4e3cb"/><polygon points="2029.0,1106.0 2040.0,1100.0 2054.0,1104.0 2056.0,1122.0 2050.0,1136.0 2036.0,1134.0 2027.0,1122.0" fill="#cfe6b9"/><polygon points="2122.0,1004.0 2136.0,1000.0 2146.0,1006.0 2143.0,1020.0 2128.0,1022.0" fill="#cfe6b9"/><polygon points="2116.0,1094.0 2127.0,1092.0 2129.0,1104.0 2119.0,1108.0" fill="#cfe6b9"/><polygon points="1784.0,1084.0 1800.0,1086.0 1806.0,1104.0 1800.0,1130.0 1790.0,1136.0 1784.0,1134.0" fill="#cfe6b9"/><polygon points="1862.0,1098.0 1880.0,1096.0 1884.0,1106.0 1866.0,1108.0" fill="#cfe6b9"/><polygon points="1948.0,1136.0 1966.0,1142.0 1986.0,1134.0 1984.0,1126.0 1975.0,1136.0 1958.0,1136.0 1950.0,1130.0" fill="#cfe6b9"/><polygon points="1931.0,1192.0 1946.0,1190.0 1952.0,1204.0 1948.0,1220.0 1932.0,1220.0" fill="#cfe6b9"/><polygon points="1974.0,1190.0 1985.0,1189.0 1987.0,1207.0 1977.0,1209.0" fill="#cfe6b9"/><polygon points="2095.0,1162.0 2108.0,1160.0 2110.0,1171.0 2097.0,1173.0" fill="#cfe6b9"/><polygon points="2133.0,949.0 2144.0,947.0 2147.0,956.0 2136.0,958.0" fill="#cfe6b9"/><polygon points="2088.0,936.0 2112.0,930.0 2120.0,940.0 2104.0,950.0 2090.0,948.0" fill="#cfe6b9"/><polygon points="1784.0,1140.0 1794.0,1150.0 1790.0,1190.0 1800.0,1220.0 1784.0,1220.0" fill="#cfe6b9"/><polygon points="2176.0,930.0 2189.0,924.0 2189.0,960.0 2180.0,956.0" fill="#cfe6b9"/><polygon points="2060.0,1128.0 2070.0,1126.0 2072.0,1140.0 2062.0,1142.0" fill="#cfe6b9"/><polygon points="1990.0,1172.0 2002.0,1176.0 2000.0,1200.0 1992.0,1196.0" fill="#cfe6b9"/><polygon points="1783.0,797.0 2190.0,797.0 2190.0,853.0 2170.0,856.0 2157.0,862.0 2140.0,882.0 2124.0,908.0 2110.0,924.4 2095.0,930.0 2080.0,939.0 2071.0,957.0 2074.4,969.0 2090.0,980.0 2084.4,998.0 2080.0,1004.4 2056.0,1003.0 2042.0,1009.0 2030.0,1003.0 2010.0,1003.0 1997.0,1000.0 1990.0,1024.0 1974.4,1032.2 1957.8,1041.1 1935.6,1054.4 1913.3,1068.9 1900.0,1077.8 1891.0,1075.6 1864.4,1072.2 1857.8,1067.8 1844.4,1060.6 1835.6,1064.4 1807.8,1065.6 1798.9,1059.0 1794.4,1042.0 1800.0,1031.0 1793.3,1006.7 1787.8,980.5 1783.0,980.0" fill="#a3ccff"/><polygon points="2003.3,970.0 2016.7,972.2 2014.4,993.3 2022.2,991.1 2030.0,973.3 2042.2,964.4 2044.4,964.4 2030.0,1004.0 1996.0,1004.0 2001.0,982.0" fill="#f1eee6"/><polygon points="2056.7,965.6 2062.8,966.0 2060.0,975.6 2056.7,992.2 2058.3,996.7 2056.7,1002.2 2060.0,1003.3 2062.2,996.7 2068.9,995.6 2071.7,980.6 2072.2,986.7 2077.8,987.8 2073.3,1001.7 2081.0,1004.4 2081.0,1012.0 2041.0,1012.0 2048.9,991.1" fill="#f1eee6"/><path d="M1955,1032 L1975.6,1012.2" stroke="#f1eee6" stroke-width="1.6"/><polygon points="2030.0,1003.0 2042.0,1009.0 2033.0,1030.0 2026.7,1037.8 2017.8,1063.3 2012.2,1080.0 2005.6,1080.0 2012.2,1062.2 2020.0,1036.7 2027.8,1014.4" fill="#a3ccff"/><path d="M1900,1082 L1939,1058.5 L1975,1049.5 L1999,1045.6 L2024,1040" stroke="#a3ccff" stroke-width="5" fill="none" stroke-linejoin="round"/><path d="M2009.0,1078.0 L2003.9,1098.7 L1995.3,1113.8 L1993.0,1126.7 L1986.7,1143.9 L1973.8,1150.4 L1956.5,1146.0 L1939.3,1135.3 L1920.0,1120.2 L1904.9,1109.5 L1892.0,1105.1 L1883.3,1107.3 L1881.2,1113.8 L1892.0,1131.0 L1904.9,1148.2 L1917.8,1167.6 L1926.4,1189.1 L1928.6,1221.0" stroke="#a3ccff" stroke-width="6.2" fill="none" stroke-linejoin="round" stroke-linecap="round"/><path d="M1784.3,1019.0 L1792.9,1040.6 L1803.7,1070.7 L1829.5,1090.0 L1833.8,1092.2" stroke="#ffffff" stroke-width="2.6" fill="none" stroke-linejoin="round" stroke-linecap="round"/><path d="M1833.8,1092.2 L1900.6,1080.4 L1930.7,1060.0 L1973.8,1036.3 L1990.0,1028.0" stroke="#ffffff" stroke-width="3" fill="none" stroke-linejoin="round" stroke-linecap="round"/><path d="M1905.0,1080.0 L1935.0,1064.0 L1978.0,1040.0" stroke="#ffffff" stroke-width="1.6" fill="none" stroke-linejoin="round" stroke-linecap="round"/><path d="M1833.8,1092.2 L1909.2,1085.8 L1956.5,1068.5 L2008.2,1066.4 L2021.1,1075.0 L2044.8,1057.8 L2085.7,1038.4 L2124.5,984.6 L2146.0,954.4 L2167.5,941.5 L2189.0,930.0" stroke="#ffffff" stroke-width="2.8" fill="none" stroke-linejoin="round" stroke-linecap="round"/><path d="M1833.8,1092.2 L1861.8,1113.8 L1870.4,1139.6 L1887.6,1167.6 L1900.6,1221.0" stroke="#ffffff" stroke-width="2.4" fill="none" stroke-linejoin="round" stroke-linecap="round"/><path d="M1784.3,1113.8 L1810.0,1100.0 L1833.8,1092.2" stroke="#ffffff" stroke-width="2.2" fill="none" stroke-linejoin="round" stroke-linecap="round"/><path d="M1960.8,1068.5 L1965.1,1135.3 L1969.5,1156.8 L1973.8,1221.0" stroke="#ffffff" stroke-width="2.4" fill="none" stroke-linejoin="round" stroke-linecap="round"/><path d="M1969.5,1156.8 L2016.8,1163.3 L2059.9,1156.8 L2115.8,1113.8 L2146.0,1083.6 L2189.0,1070.7" stroke="#ffffff" stroke-width="2.4" fill="none" stroke-linejoin="round" stroke-linecap="round"/><path d="M2189.0,1088.0 L2167.5,1103.0 L2154.6,1124.5 L2146.0,1156.8 L2133.1,1182.6 L2128.0,1221.0" stroke="#ffffff" stroke-width="2.2" fill="none" stroke-linejoin="round" stroke-linecap="round"/><path d="M1838.0,1094.0 L1850.0,1120.0 L1846.0,1150.0 L1830.0,1180.0 L1815.0,1221.0" stroke="#ffffff" stroke-width="1.8" fill="none" stroke-linejoin="round" stroke-linecap="round"/><path d="M1870.0,1140.0 L1905.0,1170.0 L1915.0,1221.0" stroke="#ffffff" stroke-width="1.6" fill="none" stroke-linejoin="round" stroke-linecap="round"/><path d="M1992.0,1050.0 L1994.0,1084.0 L2019.0,1078.0" stroke="#ffffff" stroke-width="1.8" fill="none" stroke-linejoin="round" stroke-linecap="round"/><path d="M1962.0,1082.0 L1994.0,1084.0" stroke="#ffffff" stroke-width="1.8" fill="none" stroke-linejoin="round" stroke-linecap="round"/><path d="M2044.8,1057.8 L2060.0,1090.0 L2059.9,1156.8 L2050.0,1221.0" stroke="#ffffff" stroke-width="1.8" fill="none" stroke-linejoin="round" stroke-linecap="round"/><path d="M2085.7,1038.4 L2100.0,1085.0 L2115.8,1113.8" stroke="#ffffff" stroke-width="1.6" fill="none" stroke-linejoin="round" stroke-linecap="round"/><path d="M2016.8,1163.3 L2020.0,1221.0" stroke="#ffffff" stroke-width="1.6" fill="none" stroke-linejoin="round" stroke-linecap="round"/><path d="M2124.5,984.6 L2160.0,1004.0 L2189.0,1012.0" stroke="#ffffff" stroke-width="1.4" fill="none" stroke-linejoin="round" stroke-linecap="round"/><path d="M2146.0,954.4 L2176.0,978.0 L2189.0,984.0" stroke="#ffffff" stroke-width="1.4" fill="none" stroke-linejoin="round" stroke-linecap="round"/><path d="M2135.0,969.0 L2160.0,990.0 L2172.0,972.0" stroke="#ffffff" stroke-width="1.2" fill="none" stroke-linejoin="round" stroke-linecap="round"/><path d="M2156.0,962.0 L2180.0,982.0" stroke="#ffffff" stroke-width="1.2" fill="none" stroke-linejoin="round" stroke-linecap="round"/><path d="M2070.0,985.0 L2085.0,1010.0 L2100.0,1000.0 L2124.5,984.6" stroke="#ffffff" stroke-width="1.4" fill="none" stroke-linejoin="round" stroke-linecap="round"/><path d="M1990.0,1028.0 L2000.0,1008.0 L2010.0,1014.0 L2003.0,1030.0" stroke="#ffffff" stroke-width="1.6" fill="none" stroke-linejoin="round" stroke-linecap="round"/><path d="M2090.0,1180.0 L2120.0,1160.0 L2146.0,1156.8" stroke="#ffffff" stroke-width="1.4" fill="none" stroke-linejoin="round" stroke-linecap="round"/><path d="M1784.0,1160.0 L1820.0,1150.0 L1846.0,1150.0" stroke="#ffffff" stroke-width="1.4" fill="none" stroke-linejoin="round" stroke-linecap="round"/><path d="M2040.0,1075.0 L2080.0,1030.0 L2120.0,1012.0 L2189.0,1008.0" stroke="#d2d4d6" stroke-width="1" fill="none" stroke-linejoin="round" stroke-linecap="round"/><path d="M2189.0,1030.0 L2160.0,1080.0 L2120.0,1180.0 L2100.0,1221.0" stroke="#d8d8d8" stroke-width="1" fill="none" stroke-linejoin="round" stroke-linecap="round"/><path d="M2057.7,1036.3 L2062.0,1046.0 L2066.3,1053.5 L2073.0,1062.0 L2081.4,1068.5 L2092.0,1072.0 L2102.9,1072.8 L2124.0,1069.0 L2146.0,1062.0 L2189.0,1044.9" stroke="#e9a94a" stroke-width="4.6" fill="none" stroke-linejoin="round" stroke-linecap="round"/><path d="M2057.7,1036.3 L2062.0,1046.0 L2066.3,1053.5 L2073.0,1062.0 L2081.4,1068.5 L2092.0,1072.0 L2102.9,1072.8 L2124.0,1069.0 L2146.0,1062.0 L2189.0,1044.9" stroke="#fbd58a" stroke-width="2.6" fill="none" stroke-linejoin="round" stroke-linecap="round"/><rect x="2116.3" y="1057.8" width="29.699999999999818" height="16.200000000000045" fill="#5f9e3a"/><rect x="1861.8" y="1157.9" width="30.200000000000045" height="16.09999999999991" fill="#5f9e3a"/><circle cx="1977.4" cy="1122" r="8.6" fill="#8d6e63" stroke="#fff" stroke-width="1"/><path d="M1972.6,1126 v-4.5 h2.4 v4.5 z M1976.2,1126 v-8.5 h2.4 v8.5 z M1979.8,1126 v-5.5 h2.4 v5.5 z" fill="#fff"/><circle cx="1985.6" cy="1041.8" r="12.8" fill="rgba(0,0,0,.22)"/><circle cx="1985.6" cy="1040.6" r="12.4" fill="#db3a34" stroke="#f4d0cc" stroke-width="1"/><path d="M1982.3999999999999,1038.0 v-2 a3.2,3.2 0 0 1 6.4,0 v2" fill="none" stroke="#fff" stroke-width="1.6"/><rect x="1978.6" y="1037.8" width="14" height="9.6" rx="1" fill="#fff"/><path d="M1982.6,1041.0 a3,3 0 0 0 6,0" fill="none" stroke="#db3a34" stroke-width="1.5"/><circle cx="1957" cy="1092.4" r="12.8" fill="rgba(0,0,0,.22)"/><circle cx="1957" cy="1091.2" r="12.4" fill="#db3a34" stroke="#f4d0cc" stroke-width="1"/><path d="M1953.8,1088.6000000000001 v-2 a3.2,3.2 0 0 1 6.4,0 v2" fill="none" stroke="#fff" stroke-width="1.6"/><rect x="1950" y="1088.4" width="14" height="9.6" rx="1" fill="#fff"/><path d="M1954,1091.6000000000001 a3,3 0 0 0 6,0" fill="none" stroke="#db3a34" stroke-width="1.5"/><circle cx="1937.2" cy="1182.8" r="12.8" fill="rgba(0,0,0,.22)"/><circle cx="1937.2" cy="1181.6" r="12.4" fill="#db3a34" stroke="#f4d0cc" stroke-width="1"/><path d="M1934.0,1179.0 v-2 a3.2,3.2 0 0 1 6.4,0 v2" fill="none" stroke="#fff" stroke-width="1.6"/><rect x="1930.2" y="1178.8" width="14" height="9.6" rx="1" fill="#fff"/><path d="M1934.2,1182.0 a3,3 0 0 0 6,0" fill="none" stroke="#db3a34" stroke-width="1.5"/><circle cx="2151.8" cy="1144.0" r="12.8" fill="rgba(0,0,0,.22)"/><circle cx="2151.8" cy="1142.8" r="12.4" fill="#db3a34" stroke="#f4d0cc" stroke-width="1"/><path d="M2148.6000000000004,1140.2 v-2 a3.2,3.2 0 0 1 6.4,0 v2" fill="none" stroke="#fff" stroke-width="1.6"/><rect x="2144.8" y="1140.0" width="14" height="9.6" rx="1" fill="#fff"/><path d="M2148.8,1143.2 a3,3 0 0 0 6,0" fill="none" stroke="#db3a34" stroke-width="1.5"/><circle cx="1800.5" cy="1201.7" r="12.8" fill="rgba(0,0,0,.22)"/><circle cx="1800.5" cy="1200.5" r="12.4" fill="#db3a34" stroke="#f4d0cc" stroke-width="1"/><rect x="1795.3" y="1195.3" width="10.4" height="10.4" rx="1" fill="#fff"/><defs><linearGradient id="pg" x1="0" y1="0" x2="0" y2="1"><stop offset="0" stop-color="#f8685d"/><stop offset="1" stop-color="#e8402f"/></linearGradient></defs><path d="M1986.7,1037.6 C1985.2,1024 1972.2,1013.5 1972.2,1000.6 A14.5,14.5 0 0 1 2001.2,1000.6 C2001.2,1013.5 1988.2,1024 1986.7,1037.6 z" fill="url(#pg)" stroke="#b8312a" stroke-width="1"/><circle cx="1986.7" cy="1000" r="4.9" fill="#5e1210"/></svg></div>
<div class="a" style="left:1777px;top:797px;width:160.80px;height:33.70px;background:#fff"></div>
<svg style="left:2136px;top:807px;" width="40" height="40" viewBox="2136 807 40 40"><g fill="none" stroke-width="7.4"><path d="M2167.4,818.3 A13.2,13.2 0 0 0 2145.3,819.4" stroke="#ea4335"/><path d="M2145.3,819.4 A13.2,13.2 0 0 0 2145.3,835.2" stroke="#fbbc05"/><path d="M2145.3,835.2 A13.2,13.2 0 0 0 2165.4,836.9" stroke="#34a853"/><path d="M2165.4,836.9 A13.2,13.2 0 0 0 2169.2,827.3" stroke="#4285f4"/></g><rect x="2156.4" y="823.8" width="16.6" height="6.8" fill="#4285f4"/></svg>
<div class="a" style="left:1797px;top:859.2px;width:380.00px;height:64.50px;background:#fff;border-radius:2px;box-shadow:0 2px 5px rgba(0,0,0,.32),0 0 2px rgba(0,0,0,.12)"></div>
<div class="a" style="left:1822.7px;top:883.6px;width:24.60px;height:3.00px;background:#444"></div>
<div class="a" style="left:1822.7px;top:890.2px;width:24.60px;height:3.00px;background:#444"></div>
<div class="a" style="left:1822.7px;top:896.8px;width:24.60px;height:3.00px;background:#444"></div>
<svg style="left:2050px;top:868px;" width="110" height="47" viewBox="2050 868 110 47"><circle cx="2066" cy="888.8" r="7.9" fill="none" stroke="#a8a8a8" stroke-width="2.6"/><path d="M2071.8,894.6 L2080.2,903" stroke="#a8a8a8" stroke-width="3" stroke-linecap="butt"/><path d="M2104.5,873 v37.6" stroke="#d6d6d6" stroke-width="1.3"/><path d="M2133.4,883.2 L2150.6,900.6 M2150.6,883.2 L2133.4,900.6" stroke="#999" stroke-width="2.2"/></svg>
<div class="a" style="left:1783.75px;top:1219.7px;width:405.25px;height:185.10px;background:#4285f4"></div>
<div class="a" style="left:1869.3px;top:1324.6px;width:242.70px;height:48.10px;background:#264e95;border-radius:10px"></div>
<div class="a" style="left:2083.7px;top:1180.5px;width:73.40px;height:73.40px;background:#fff;border-radius:50%;box-shadow:0 2px 5px rgba(0,0,0,.3)"></div>
<svg style="left:2100px;top:1197px;" width="41" height="41" viewBox="2100 1197 41 41"><rect x="2110.2" y="1207" width="20.4" height="20.4" rx="2" fill="#4285f4" transform="rotate(45 2120.4 1217.2)"/><path d="M2114.6,1222.4 v-5 a1.5,1.5 0 0 1 1.5,-1.5 h6.2 v-3.6 l5.2,5 l-5.2,5 v-3.6 h-4.9 v3.7 z" fill="#fff"/></svg>
<span class="t" style="left:1796.40px;top:804.00px;font:400 16.6px/16.6px 'Liberation Sans', sans-serif;color:#3f3f3f;letter-spacing:0.581px;-webkit-text-stroke:0.55px #3f3f3f;">GOOGLE MAPS</span>
<span class="t" style="left:2002.20px;top:1021.00px;font:400 16.6px/16.6px 'Liberation Sans', sans-serif;color:#2a2a2a;letter-spacing:0.659px;-webkit-text-stroke:0.45px #2a2a2a;text-shadow:0 0 2px #fff,0 0 2px #fff,1px 0 1px #fff,-1px 0 1px #fff,0 1px 1px #fff,0 -1px 1px #fff;">Narvesen Trondheim</span>
<span class="t" style="left:2003.20px;top:1042.00px;font:400 16.6px/16.6px 'Liberation Sans', sans-serif;color:#2a2a2a;letter-spacing:0.673px;-webkit-text-stroke:0.45px #2a2a2a;text-shadow:0 0 2px #fff,0 0 2px #fff,1px 0 1px #fff,-1px 0 1px #fff,0 1px 1px #fff,0 -1px 1px #fff;">sentralstasjon</span>
<span class="t" style="left:1973.80px;top:1084.00px;font:400 16.6px/16.6px 'Liberation Sans', sans-serif;color:#2a2a2a;letter-spacing:0.521px;-webkit-text-stroke:0.45px #2a2a2a;text-shadow:0 0 2px #fff,0 0 2px #fff,1px 0 1px #fff,-1px 0 1px #fff,0 1px 1px #fff,0 -1px 1px #fff;">Narvesen Prinsenkrysset</span>
<span class="t" style="left:1825.30px;top:1115.00px;font:400 16.6px/16.6px 'Liberation Sans', sans-serif;color:#4e4e4e;letter-spacing:0.545px;-webkit-text-stroke:0.45px #4e4e4e;text-shadow:0 0 2px #fff,0 0 2px #fff,1px 0 1px #fff,-1px 0 1px #fff,0 1px 1px #fff,0 -1px 1px #fff;">Nidaros Domkirke</span>
<span class="t" style="left:1807.00px;top:1069.00px;font:400 15.5px/15.5px 'Liberation Sans', sans-serif;color:#7b6a4c;letter-spacing:0.341px;-webkit-text-stroke:0.45px #7b6a4c;text-shadow:0 0 2px #fff,0 0 2px #fff,1px 0 1px #fff,-1px 0 1px #fff,0 1px 1px #fff,0 -1px 1px #fff;">Ilsvikøra</span>
<span class="t" style="left:2146.70px;top:946.00px;font:400 10.8px/10.8px 'Liberation Sans', sans-serif;color:#8c7a57;letter-spacing:0.166px;-webkit-text-stroke:0.45px #8c7a57;text-shadow:0 0 2px #fff,0 0 2px #fff,1px 0 1px #fff,-1px 0 1px #fff,0 1px 1px #fff,0 -1px 1px #fff;">LADE</span>
<span class="t" style="left:1953.80px;top:1174.00px;font:400 16.6px/16.6px 'Liberation Sans', sans-serif;color:#2a2a2a;letter-spacing:0.216px;-webkit-text-stroke:0.45px #2a2a2a;text-shadow:0 0 2px #fff,0 0 2px #fff,1px 0 1px #fff,-1px 0 1px #fff,0 1px 1px #fff,0 -1px 1px #fff;">Narvesen St. Olav</span>
<span class="t" style="left:1817.30px;top:1193.00px;font:400 16.6px/16.6px 'Liberation Sans', sans-serif;color:#2a2a2a;letter-spacing:0.487px;-webkit-text-stroke:0.45px #2a2a2a;text-shadow:0 0 2px #fff,0 0 2px #fff,1px 0 1px #fff,-1px 0 1px #fff,0 1px 1px #fff,0 -1px 1px #fff;">Narvesen</span>
<span class="t" style="left:2168.70px;top:1134.00px;font:400 16.6px/16.6px 'Liberation Sans', sans-serif;color:#2a2a2a;text-shadow:0 0 2px #fff,0 0 2px #fff,1px 0 1px #fff,-1px 0 1px #fff,0 1px 1px #fff,0 -1px 1px #fff;width:19.5px;overflow:hidden;">Na</span>
<span class="t" style="left:2120.50px;top:1062.00px;font:700 12.6px/12.6px 'Liberation Sans', sans-serif;color:#fff;letter-spacing:0.146px;">706</span>
<span class="t" style="left:1866.00px;top:1162.00px;font:700 12.6px/12.6px 'Liberation Sans', sans-serif;color:#fff;letter-spacing:0.396px;">706</span>
<span class="t" style="left:2176.00px;top:1206.00px;font:italic 400 8.6px/8.6px 'Liberation Sans', sans-serif;color:#9a9a9a;transform-origin:0 100%;transform:rotate(-76deg);">Røsetvegen</span>
<span class="t" style="left:1865.10px;top:882.00px;font:400 20.3px/20.3px 'Liberation Sans', sans-serif;color:#222;letter-spacing:.15px;width:187px;overflow:hidden;-webkit-mask-image:linear-gradient(90deg,#000 150px,transparent 186px);mask-image:linear-gradient(90deg,#000 150px,transparent 186px);">Narvesen Trondheim</span>
<span class="t" style="left:1808.20px;top:1242.00px;font:400 26px/26px 'Liberation Sans', sans-serif;color:#fff;letter-spacing:0.412px;-webkit-text-stroke:0.5px #fff;">Narvesen</span>
<span class="t" style="left:1808.40px;top:1277.00px;font:400 18.6px/18.6px 'Liberation Sans', sans-serif;color:#cbdcfb;letter-spacing:-0.198px;">Fosenkaia 1, 7010 Trondheim</span>
<span class="t" style="left:2075.23px;top:1277.00px;font:700 18.2px/18.2px 'Liberation Sans', sans-serif;color:#fff;transform-origin:0 50%;transform:scaleX(0.9713);">Directions</span>
<span class="t" style="left:1912.60px;top:1341.00px;font:400 17.3px/17.3px 'Liberation Sans', sans-serif;color:#fff;letter-spacing:0.053px;-webkit-text-stroke:0.6px #fff;">GET PROMO CODE</span>
</section>
<section id="callouts">
<div class="a" style="left:17px;top:323px;width:268.00px;height:607.50px;background:#e92d63;border-radius:44px"></div>
<svg style="left:290px;top:575px;" width="70" height="145" viewBox="290 575 70 145"><polygon points="292,578.5 356.5,648 292,717.5" fill="#e92d63"/></svg>
<div class="a" style="left:17px;top:1075px;width:268.00px;height:327.00px;background:#5970ee;border-radius:44px"></div>
<svg style="left:294px;top:1165px;" width="70" height="145" viewBox="294 1165 70 145"><polygon points="296,1169 360.5,1238 296,1307" fill="#5970ee"/></svg>
<div class="a" style="left:2284px;top:415px;width:268.00px;height:754.50px;background:#b241d6;border-radius:44px"></div>
<svg style="left:2200px;top:720px;" width="70" height="145" viewBox="2200 720 70 145"><polygon points="2267,722.5 2202,791.5 2267,861" fill="#b241d6"/></svg>
<svg style="left:2307px;top:1338px;" width="46" height="46" viewBox="2307 1338 46 46"><path d="M2316.98,1340.43 H2322.95 Q2324.65,1340.43 2324.65,1342.13 V1345.14 A7.52,7.52 0 1 0 2334.59,1345.14 V1342.13 Q2334.59,1340.43 2336.29,1340.43 H2342.82 a7.38,7.38 0 0 1 7.38,7.38 V1373.93 a7.38,7.38 0 0 1 -7.38,7.38 H2316.98 a7.38,7.38 0 0 1 -7.38,-7.38 V1347.81 a7.38,7.38 0 0 1 7.38,-7.38 z" fill="#e92d63"/></svg>
<div class="a" style="left:2493.225174825175px;top:1368.2496503496504px;width:12.78px;height:12.78px;background:#e92d63;border-radius:50%"></div>
<span class="t" style="left:109.63px;top:583.00px;font:400 39.2px/39.2px 'Liberation Sans', sans-serif;color:#fff;-webkit-text-stroke:0.25px #fff;transform-origin:0 50%;transform:scaleX(0.9706);">Core</span>
<span class="t" style="left:84.30px;top:635.00px;font:400 39.2px/39.2px 'Liberation Sans', sans-serif;color:#fff;letter-spacing:0.321px;-webkit-text-stroke:0.25px #fff;">widgets</span>
<span class="t" style="left:64.60px;top:1195.00px;font:400 39.2px/39.2px 'Liberation Sans', sans-serif;color:#fff;letter-spacing:0.470px;-webkit-text-stroke:0.25px #fff;">Customer</span>
<span class="t" style="left:84.50px;top:1247.00px;font:400 39.2px/39.2px 'Liberation Sans', sans-serif;color:#fff;letter-spacing:0.321px;-webkit-text-stroke:0.25px #fff;">widgets</span>
<span class="t" style="left:2351.80px;top:749.00px;font:400 39.2px/39.2px 'Liberation Sans', sans-serif;color:#fff;letter-spacing:0.674px;-webkit-text-stroke:0.25px #fff;">Partner</span>
<span class="t" style="left:2351.60px;top:801.00px;font:400 39.2px/39.2px 'Liberation Sans', sans-serif;color:#fff;letter-spacing:0.321px;-webkit-text-stroke:0.25px #fff;">widgets</span>
<span class="t" style="left:2259.27px;top:1318.00px;font:400 74.70712909441234px/74.70712909441234px 'Liberation Sans', sans-serif;color:#555b6b;-webkit-text-stroke:1.2776223776223776px #555b6b;transform-origin:0 50%;transform:scaleX(1.1194);">p</span><span class="t" style="left:2321.09px;top:1353.00px;font:400 26.89456647398844px/26.89456647398844px 'Liberation Sans', sans-serif;color:#e92d63;">u</span><span class="t" style="left:2353.00px;top:1318.00px;font:400 74.70712909441234px/74.70712909441234px 'Liberation Sans', sans-serif;color:#555b6b;-webkit-text-stroke:1.2776223776223776px #555b6b;transform-origin:0 50%;transform:scaleX(1.0532);">z</span><span class="t" style="left:2390.81px;top:1318.00px;font:400 74.70712909441234px/74.70712909441234px 'Liberation Sans', sans-serif;color:#555b6b;-webkit-text-stroke:1.2776223776223776px #555b6b;transform-origin:0 50%;transform:scaleX(1.0395);">z</span><span class="t" style="left:2427.94px;top:1318.00px;font:400 74.70712909441234px/74.70712909441234px 'Liberation Sans', sans-serif;color:#555b6b;-webkit-text-stroke:1.2776223776223776px #555b6b;transform-origin:0 50%;transform:scaleX(1.0607);">e</span><span class="t" style="left:2472.71px;top:1319.00px;font:400 73.58652215799616px/73.58652215799616px 'Liberation Sans', sans-serif;color:#555b6b;-webkit-text-stroke:1.2776223776223776px #555b6b;transform-origin:0 50%;transform:scaleX(0.9937);">l</span><span class="t" style="left:2489.99px;top:1323.00px;font:400 67.2364161849711px/67.2364161849711px 'Liberation Sans', sans-serif;color:#e92d63;">.</span>
</section>

</body></html>
